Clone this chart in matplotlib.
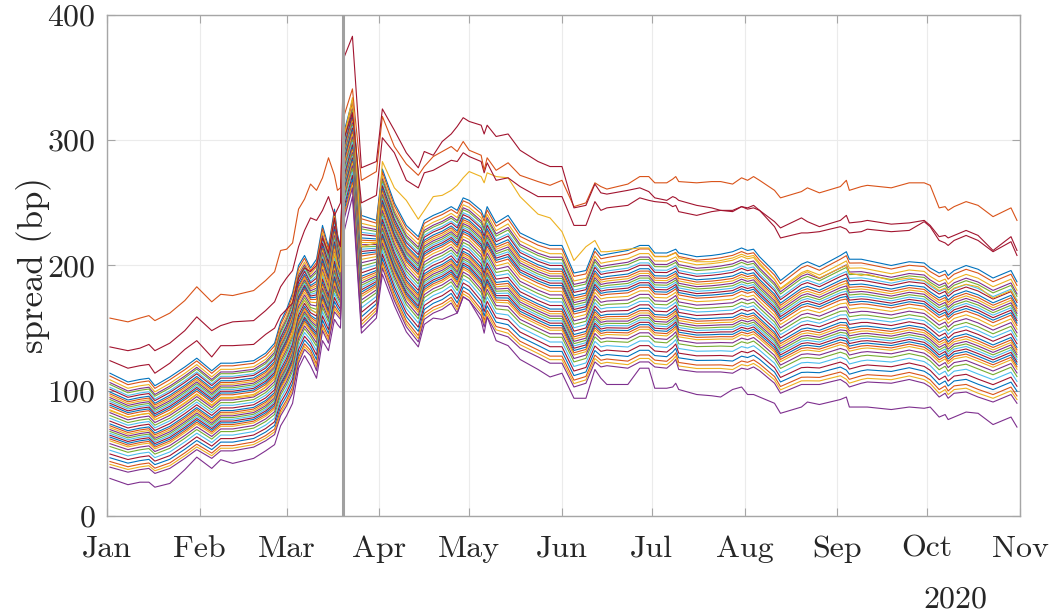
import numpy as np
import matplotlib
matplotlib.use("Agg")
import matplotlib.pyplot as plt
import matplotlib.dates as mdates

# dias desde 1 jan 2020
dias = [1, 7, 11, 14, 16, 21, 26, 30, 35, 38, 42, 49, 53, 56, 58,
        60, 62, 64, 66, 68, 70, 72, 74, 76, 77, 78, 79, 82, 85, 90,
        92, 96, 100, 104, 106, 109, 112, 115, 117, 119, 121, 125, 126, 127, 130,
        134, 138, 144, 148, 152, 156, 160, 163, 165, 167, 174, 178, 181, 183, 187,
        189, 190, 191, 197, 202, 205, 209, 212, 214, 216, 218, 223, 225, 232, 234,
        238, 245, 247, 248, 252, 254, 262, 268, 273, 275, 278, 280, 281, 283, 287,
        291, 296, 302, 304]

# series que se destacam (bp)
laranja = [158, 155, 158, 160, 156, 162, 172, 183, 171, 177, 176, 180, 188, 195, 212,
           213, 218, 245, 253, 265, 260, 270, 286, 272, 260, 262, 318, 341, 268, 275,
           319, 295, 281, 272, 279, 287, 291, 295, 291, 299, 292, 288, 276, 286, 276,
           282, 272, 267, 264, 268, 247, 250, 266, 263, 261, 265, 271, 271, 266, 266,
           269, 271, 267, 266, 267, 267, 265, 270, 268, 271, 268, 260, 254, 259, 262,
           258, 263, 268, 260, 263, 264, 262, 266, 266, 264, 246, 247, 244, 247, 251,
           248, 239, 246, 236]
vermelho1 = [135, 132, 134, 137, 132, 138, 148, 159, 148, 152, 155, 156, 164, 171, 183,
             190, 196, 215, 228, 238, 236, 244, 255, 240, 245, 250, 365, 383, 278, 283,
             325, 308, 290, 278, 291, 288, 299, 305, 311, 318, 315, 312, 305, 312, 303,
             305, 292, 283, 279, 279, 246, 248, 265, 258, 257, 260, 262, 259, 254, 252,
             255, 254, 252, 248, 246, 244, 243, 247, 245, 246, 244, 235, 230, 238, 235,
             231, 236, 240, 234, 235, 236, 233, 234, 236, 232, 223, 224, 222, 224, 228,
             224, 212, 223, 212]
vermelho2 = [124, 118, 120, 121, 114, 122, 133, 140, 127, 136, 136, 137, 145, 150, 160,
             165, 170, 190, 198, 195, 200, 222, 210, 238, 222, 215, 300, 322, 250, 256,
             302, 290, 268, 262, 274, 276, 280, 284, 283, 290, 287, 283, 274, 282, 268,
             270, 263, 255, 255, 255, 232, 232, 251, 244, 246, 248, 254, 252, 251, 250,
             247, 248, 243, 240, 243, 244, 244, 247, 246, 248, 244, 231, 222, 226, 226,
             227, 231, 229, 226, 227, 229, 227, 228, 235, 231, 220, 218, 216, 220, 224,
             220, 211, 219, 208]
amarelo = [84, 79, 81, 82, 77, 82, 90, 97, 88, 94, 94, 96, 103, 110, 125,
           135, 145, 165, 172, 165, 162, 195, 180, 210, 200, 195, 300, 334, 215, 218,
           283, 262, 252, 237, 244, 255, 256, 260, 264, 270, 275, 271, 266, 274, 271,
           270, 255, 241, 238, 227, 204, 215, 220, 211, 211, 213, 214, 214, 207, 207,
           209, 210, 206, 203, 203, 204, 206, 209, 207, 208, 202, 189, 181, 193, 195,
           190, 198, 200, 194, 192, 193, 188, 190, 188, 185, 180, 182, 178, 182, 185,
           183, 174, 180, 172]
roxo = [30, 25, 27, 27, 23, 26, 37, 47, 38, 45, 42, 46, 52, 57, 72,
        80, 90, 118, 128, 120, 110, 140, 132, 157, 153, 150, 225, 255, 146, 158,
        193, 168, 147, 135, 153, 158, 157, 160, 162, 175, 172, 156, 146, 159, 140,
        136, 125, 117, 111, 114, 94, 94, 117, 110, 105, 105, 118, 118, 102, 102,
        103, 106, 101, 97, 96, 95, 101, 103, 97, 97, 95, 90, 82, 87, 91,
        89, 93, 95, 87, 87, 87, 85, 87, 86, 87, 79, 81, 77, 79, 83,
        82, 73, 79, 71]

# limites da faixa principal de series
faixa_topo = [114, 107, 109, 110, 104, 111, 119, 126, 116, 122, 122, 124, 130, 138, 155,
              165, 178, 200, 208, 198, 205, 232, 215, 245, 225, 215, 305, 332, 240, 236,
              277, 250, 232, 223, 236, 240, 243, 247, 244, 254, 252, 244, 238, 247, 234,
              240, 226, 219, 216, 216, 194, 196, 214, 208, 209, 212, 216, 216, 210, 210,
              212, 213, 210, 207, 208, 209, 211, 214, 212, 213, 207, 195, 188, 201, 203,
              199, 208, 211, 205, 205, 204, 200, 203, 202, 198, 194, 196, 192, 196, 200,
              197, 190, 196, 187]
faixa_base = [39, 35, 37, 38, 34, 38, 46, 53, 46, 52, 52, 55, 60, 65, 80,
              88, 98, 122, 133, 128, 116, 148, 138, 163, 160, 157, 235, 262, 150, 162,
              198, 172, 151, 139, 157, 162, 165, 170, 162, 175, 172, 160, 151, 159, 146,
              143, 134, 127, 122, 122, 103, 106, 123, 119, 120, 118, 123, 123, 119, 118,
              122, 125, 117, 115, 115, 115, 114, 118, 117, 119, 116, 106, 98, 105, 105,
              105, 109, 106, 103, 106, 107, 106, 109, 106, 103, 95, 98, 94, 98, 99,
              95, 91, 97, 90]

# posicao de cada serie dentro da faixa (0 = base, 1 = topo)
posicoes = [1.0, 0.97, 0.93, 0.9, 0.88, 0.85, 0.83, 0.8, 0.78, 0.76, 0.74, 0.72, 0.7,
            0.68, 0.66, 0.64, 0.61, 0.58, 0.55, 0.52, 0.49, 0.46, 0.44, 0.42, 0.4,
            0.38, 0.36, 0.34, 0.32, 0.3, 0.28, 0.25, 0.22, 0.18, 0.14, 0.1, 0.06, 0.03, 0.0]

cores = ['#0072BD', '#D95319', '#EDB120', '#7E2F8E', '#77AC30', '#4DBEEE', '#A2142F']

plt.rcParams['font.family'] = ['cmr10']
plt.rcParams['axes.formatter.use_mathtext'] = True
plt.rcParams['mathtext.fontset'] = 'cm'

datas = np.datetime64('2020-01-01') + np.array(dias).astype('timedelta64[D]')
topo = np.array(faixa_topo, dtype=float)
base = np.array(faixa_base, dtype=float)

fig = plt.figure(figsize=(10.55, 6.14), dpi=100)
ax = fig.add_axes([0.1014, 0.1596, 0.8654, 0.816])

for i in range(len(posicoes)):
	serie = base + posicoes[i] * (topo - base)
	ax.plot(datas, serie, color=cores[i % 7], lw=0.8)

ax.plot(datas, amarelo, color=cores[2], lw=0.8)
ax.plot(datas, vermelho2, color=cores[6], lw=0.8)
ax.plot(datas, roxo, color=cores[3], lw=0.8)
ax.plot(datas, laranja, color=cores[1], lw=0.8)
ax.plot(datas, vermelho1, color=cores[6], lw=0.8)

# linha vertical em 20 de marco
ax.axvline(np.datetime64('2020-03-20'), color='#a0a0a0', lw=2.2, zorder=5)

ax.set_xlim(np.datetime64('2020-01-01'), np.datetime64('2020-11-01'))
ax.set_ylim(0, 400)
ax.set_yticks([0, 100, 200, 300, 400])
ax.xaxis.set_major_locator(mdates.MonthLocator())
ax.xaxis.set_major_formatter(mdates.DateFormatter('%b'))

ax.grid(True, color='#ebebeb', lw=0.8)
ax.set_axisbelow(True)
for lado in ax.spines.values():
	lado.set_color('#a6a6a6')
	lado.set_linewidth(1.0)
ax.tick_params(direction='in', length=6, width=0.8, color='#a6a6a6',
               top=True, right=True, labelsize=23, labelcolor='#262626')
ax.tick_params(axis='x', pad=14)
ax.tick_params(axis='y', pad=8)

ax.set_ylabel('spread (bp)', fontsize=25, color='#262626', ha='center', va='center')
ax.yaxis.set_label_coords(-0.08, 0.5)
ax.text(0.929, -0.168, '2020', transform=ax.transAxes, fontsize=23,
        color='#262626', ha='center', va='center')

fig.savefig('out.png', dpi=100)
